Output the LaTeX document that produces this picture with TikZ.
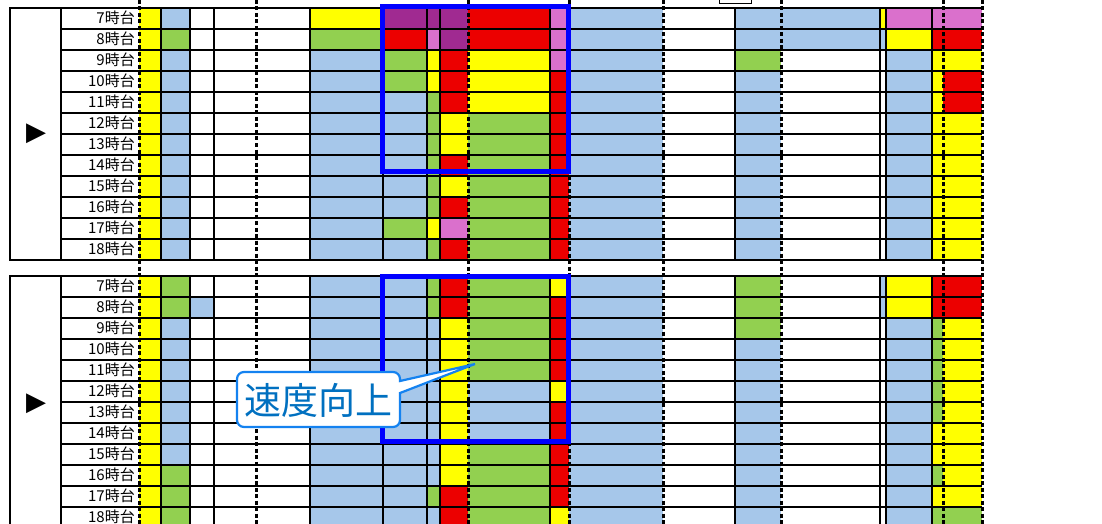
\documentclass[tikz,border=0pt]{standalone}
\usepackage{fontspec}
\setmainfont{Noto Sans CJK JP}
\newfontfamily\symfont{DejaVu Sans}
\usepackage{tikz}
\definecolor{cY}{RGB}{255,255,0}
\definecolor{cB}{RGB}{166,199,234}
\definecolor{cG}{RGB}{146,208,80}
\definecolor{cR}{RGB}{236,0,0}
\definecolor{cP}{RGB}{160,42,145}
\definecolor{cM}{RGB}{218,112,204}
\definecolor{cW}{RGB}{255,255,255}
\definecolor{boxblue}{RGB}{0,0,255}
\definecolor{calloutedge}{RGB}{20,130,240}
\definecolor{callouttext}{RGB}{0,112,192}
\tikzstyle{grid}=[draw=black,line width=2pt]
\tikzstyle{pagebreak}=[draw=black,line width=3pt,dash pattern=on 4pt off 2.5pt]
\tikzstyle{hour}=[anchor=east,inner sep=0pt,font=\fontsize{15}{15}\selectfont]
\tikzstyle{rowarrow}=[inner sep=0pt,font=\symfont\fontsize{26}{26}\selectfont]
\tikzstyle{hilight}=[draw=boxblue,line width=5pt]
\tikzstyle{callout}=[draw=calloutedge,fill=white,line width=2.2pt,line join=miter]
\tikzstyle{spdtext}=[inner sep=0pt,text=callouttext,font=\fontsize{37}{37}\selectfont]

\def\colx{{139,161,190,214,256,310,383,427,440,468,550,569,663,735,781,880,886,932,943,982}}
\newcommand{\cellrow}[2]{%
  \foreach \cl [count=\k] in {#2} {%
    \pgfmathsetmacro\xl{\colx[\k-1]}%
    \pgfmathsetmacro\xr{\colx[\k]}%
    \fill[fill=c\cl] ({\xl},{-#1}) rectangle ({\xr},{-#1-21});
  }}
\newcommand{\tablegrid}[1]{%
  \foreach \i in {0,...,12}
    \draw[grid] (61,{-#1-21*\i}) -- (982,{-#1-21*\i});
  \foreach \x in {61,161,190,214,310,383,427,440,550,735,880,886,932}
    \draw[grid] (\x,-#1) -- (\x,{-#1-252});
  \draw[grid] (10,-#1) rectangle (61,{-#1-252});
}

\begin{document}
\begin{tikzpicture}[x=1pt,y=1pt]

      \useasboundingbox (0,0) rectangle (1102,-524);
      \clip (0,0) rectangle (1102,-524);

      \cellrow{8}{Y,B,W,W,W,Y,P,P,P,R,M,B,W,B,B,Y,M,M,M}
      \cellrow{29}{Y,G,W,W,W,G,R,M,P,R,M,B,W,B,B,B,Y,R,R}
      \cellrow{50}{Y,B,W,W,W,B,G,Y,R,Y,M,B,W,G,W,W,B,Y,Y}
      \cellrow{71}{Y,B,W,W,W,B,G,Y,R,Y,R,B,W,B,W,W,B,Y,R}
      \cellrow{92}{Y,B,W,W,W,B,B,G,R,Y,R,B,W,B,W,W,B,Y,R}
      \cellrow{113}{Y,B,W,W,W,B,B,G,Y,G,R,B,W,B,W,W,B,Y,Y}
      \cellrow{134}{Y,B,W,W,W,B,B,G,Y,G,R,B,W,B,W,W,B,Y,Y}
      \cellrow{155}{Y,B,W,W,W,B,B,G,R,G,R,B,W,B,W,W,B,Y,Y}
      \cellrow{176}{Y,B,W,W,W,B,B,G,Y,G,R,B,W,B,W,W,B,Y,Y}
      \cellrow{197}{Y,B,W,W,W,B,B,G,R,G,R,B,W,B,W,W,B,Y,Y}
      \cellrow{218}{Y,B,W,W,W,B,G,Y,M,G,R,B,W,B,W,W,B,Y,Y}
      \cellrow{239}{Y,B,W,W,W,B,B,G,R,G,R,B,W,B,W,W,B,Y,Y}

      \cellrow{276}{Y,G,W,W,W,B,B,G,R,G,Y,B,W,G,W,B,Y,R,R}
      \cellrow{297}{Y,G,B,W,W,B,B,G,R,G,R,B,W,G,W,B,Y,R,R}
      \cellrow{318}{Y,B,W,W,W,B,B,B,Y,G,R,B,W,G,W,W,B,G,Y}
      \cellrow{339}{Y,B,W,W,W,B,B,B,Y,G,R,B,W,B,W,W,B,G,Y}
      \cellrow{360}{Y,B,W,W,W,B,B,B,Y,G,R,B,W,B,W,W,B,G,Y}
      \cellrow{381}{Y,B,W,W,W,B,B,B,Y,B,Y,B,W,B,W,W,B,G,Y}
      \cellrow{402}{Y,B,W,W,W,B,B,B,Y,B,R,B,W,B,W,W,B,G,Y}
      \cellrow{423}{Y,B,W,W,W,B,B,B,Y,B,R,B,W,B,W,W,B,Y,Y}
      \cellrow{444}{Y,B,W,W,W,B,B,B,Y,G,R,B,W,B,W,W,B,Y,Y}
      \cellrow{465}{Y,G,W,W,W,B,B,B,Y,G,R,B,W,B,W,W,B,G,Y}
      \cellrow{486}{Y,G,W,W,W,B,B,G,R,G,R,B,W,B,W,W,B,Y,Y}
      \cellrow{507}{Y,G,W,W,W,B,B,B,R,G,Y,B,W,B,W,W,B,G,G}

      \tablegrid{8}
      \tablegrid{276}

      \foreach \h [count=\i] in {7,...,18} {
        \node[hour] (top\h) at (135,{-8-21*\i+11.5}) {\h{}時台};
        \node[hour] (bot\h) at (135,{-276-21*\i+11.5}) {\h{}時台};
      }

      \node[rowarrow] (topsel) at (36,-134) {▶};
      \node[rowarrow] (botsel) at (36,-404) {▶};

      \foreach \x in {139,256,468,569,663,781,943,982}
        \draw[pagebreak] (\x,0) -- (\x,-524);

      \draw[line width=1pt] (719,1) -- (719,-4) -- (751,-4) -- (751,1);

      \draw[hilight] (382,-7) rectangle (568,-171.5);
      \draw[hilight] (382,-276) rectangle (568,-441);

      \coordinate (tip) at (475,-364);
      \draw[callout] (244,-372) -- (393,-372) arc[start angle=90,end angle=0,radius=7]
        -- (400,-381) -- (tip) -- (400,-393) -- (400,-420)
        arc[start angle=0,end angle=-90,radius=7] -- (244,-427)
        arc[start angle=270,end angle=180,radius=7] -- (237,-379)
        arc[start angle=180,end angle=90,radius=7] -- cycle;
      \node[spdtext] (speedup) at (318,-400) {速度向上};

    \end{tikzpicture}
\end{document}
